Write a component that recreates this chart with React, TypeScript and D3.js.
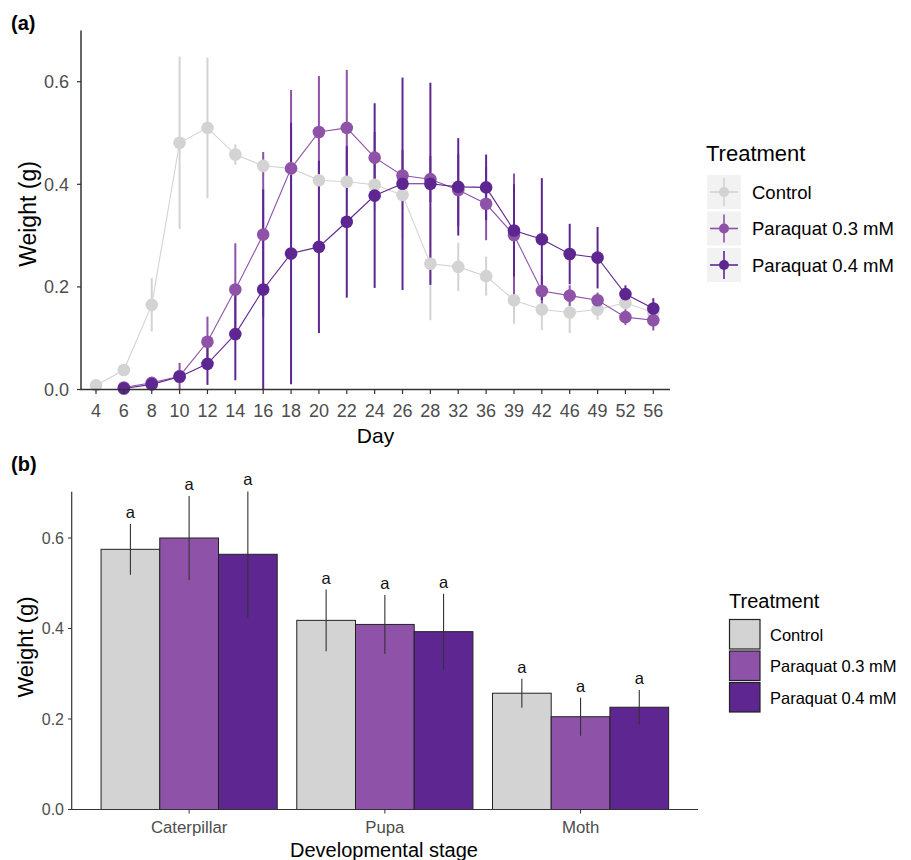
import React from "react";
import * as d3 from "d3";

const days = ["4","6","8","10","12","14","16","18","20","22","24","26","28","32","36","39","42","46","49","52","56"];
const controlMean = [0.008,0.038,0.165,0.481,0.510,0.458,0.436,0.431,0.408,0.405,0.399,0.379,0.245,0.239,0.221,0.174,0.156,0.150,0.156,0.169,0.150];
const controlErr = [0.005,0.008,0.052,0.168,0.137,0.020,0.020,0.030,0.040,0.060,0.050,0.085,0.110,0.047,0.038,0.046,0.040,0.040,0.020,0.015,0.020];
const pq03Mean = [null,0.004,0.013,0.026,0.093,0.195,0.302,0.431,0.502,0.510,0.452,0.417,0.410,0.389,0.362,0.301,0.192,0.183,0.174,0.141,0.135];
const pq03Err = [null,0.004,0.008,0.026,0.049,0.090,0.161,0.153,0.109,0.113,0.050,0.050,0.045,0.070,0.071,0.120,0.030,0.020,0.015,0.015,0.020];
const pq04Mean = [null,0.002,0.010,0.025,0.050,0.108,0.195,0.265,0.278,0.327,0.378,0.401,0.401,0.395,0.394,0.310,0.293,0.264,0.257,0.186,0.158];
const pq04Err = [null,0.003,0.006,0.010,0.041,0.090,0.195,0.255,0.168,0.148,0.180,0.207,0.197,0.095,0.064,0.090,0.119,0.059,0.060,0.017,0.020];
const yTicksA = [0, 0.2, 0.4, 0.6];

const stages = ["Caterpillar","Pupa","Moth"];
const barControl = [0.575,0.418,0.257];
const barControlErr = [0.056,0.068,0.032];
const barPq03 = [0.600,0.409,0.205];
const barPq03Err = [0.093,0.065,0.042];
const barPq04 = [0.564,0.393,0.226];
const barPq04Err = [0.139,0.084,0.038];
const letters = [["a","a","a"],["a","a","a"],["a","a","a"]];
const yTicksB = [0, 0.2, 0.4, 0.6];

const treatments = ["Control","Paraquat 0.3 mM","Paraquat 0.4 mM"];
const colors = ["#d3d3d3","#8e53a9","#5e2690"];

const FONT = "'Liberation Sans', Arial, sans-serif";
const fmt = d3.format(".1f");

export default function App() {
  // Panel (a)
  const xA = d3.scalePoint<string>().domain(days).range([96, 653.3]);
  const yA = d3.scaleLinear().domain([0, 0.7]).range([389.5, 30.4]);
  const seriesA = [
    { name: treatments[0], mean: controlMean, err: controlErr, color: colors[0] },
    { name: treatments[1], mean: pq03Mean, err: pq03Err, color: colors[1] },
    { name: treatments[2], mean: pq04Mean, err: pq04Err, color: colors[2] },
  ];
  const line = d3
    .line<number | null>()
    .defined((d) => d !== null)
    .x((_, i) => xA(days[i]) as number)
    .y((d) => yA(d as number));

  // Panel (b)
  const xB = d3.scaleBand<string>().domain(stages).range([71.7, 698]).paddingInner(0.1).paddingOuter(0.15);
  const groupScale = d3.scaleBand<string>().domain(treatments).range([0, xB.bandwidth()]);
  const yB = d3.scaleLinear().domain([0, 0.7]).range([809.5, 492.75]);
  const seriesB = [
    { vals: barControl, err: barControlErr },
    { vals: barPq03, err: barPq03Err },
    { vals: barPq04, err: barPq04Err },
  ];

  return (
    <svg width={911} height={860} style={{ position: "absolute", left: 0, top: 0, background: "#fff" }} fontFamily={FONT}>
      <rect x={0} y={0} width={911} height={860} fill="#fff" />
      {/* ===== Panel (a) ===== */}
      <text x={11} y={30} fontSize={20} fontWeight="bold" fill="#000">(a)</text>
      {seriesA.map((s, si) => (
        <g key={"eb" + si}>
          {s.mean.map((m, i) =>
            m === null ? null : (
              <line key={i} x1={xA(days[i])} x2={xA(days[i])} y1={yA(Math.max(0, m - (s.err[i] as number)))} y2={yA(m + (s.err[i] as number))} stroke={s.color} strokeWidth={2} />
            )
          )}
        </g>
      ))}
      {seriesA.map((s, si) => (
        <path key={"ln" + si} d={line(s.mean) || ""} fill="none" stroke={s.color} strokeWidth={1.1} />
      ))}
      {seriesA.map((s, si) => (
        <g key={"pt" + si}>
          {s.mean.map((m, i) =>
            m === null ? null : <circle key={i} cx={xA(days[i])} cy={yA(m)} r={6.3} fill={s.color} />
          )}
        </g>
      ))}
      <line x1={81} x2={81} y1={30.4} y2={390} stroke="#333" strokeWidth={1.5} />
      <line x1={80.3} x2={670} y1={389.5} y2={389.5} stroke="#333" strokeWidth={1.5} />
      {yTicksA.map((t) => (
        <g key={"ya" + t}>
          <line x1={77} x2={81} y1={yA(t)} y2={yA(t)} stroke="#333" strokeWidth={1.2} />
          <text x={69} y={yA(t) + 6.3} textAnchor="end" fontSize={18} fill="#4d4d4d">{fmt(t)}</text>
        </g>
      ))}
      {days.map((d) => (
        <g key={"xa" + d}>
          <line x1={xA(d)} x2={xA(d)} y1={389.5} y2={394} stroke="#333" strokeWidth={1.2} />
          <text x={xA(d)} y={416.5} textAnchor="middle" fontSize={18} fill="#4d4d4d">{d}</text>
        </g>
      ))}
      <text x={375.5} y={443} textAnchor="middle" fontSize={21} fill="#000">Day</text>
      <text transform="translate(36,214) rotate(-90)" textAnchor="middle" fontSize={23} fill="#000">Weight (g)</text>
      <text x={706} y={161} fontSize={22} fill="#000">Treatment</text>
      {seriesA.map((s, i) => {
        const ky = 175 + i * 36.5;
        return (
          <g key={"la" + i}>
            <rect x={707} y={ky} width={34} height={34} fill="#f2f2f2" />
            <line x1={710} x2={738} y1={ky + 17} y2={ky + 17} stroke={s.color} strokeWidth={1.6} />
            <line x1={724} x2={724} y1={ky + 3} y2={ky + 31} stroke={s.color} strokeWidth={1.6} />
            <circle cx={724} cy={ky + 17} r={5} fill={s.color} />
            <text x={752} y={ky + 23.5} fontSize={18.5} fill="#000">{s.name}</text>
          </g>
        );
      })}

      {/* ===== Panel (b) ===== */}
      <text x={11} y={471} fontSize={20} fontWeight="bold" fill="#000">(b)</text>
      {stages.map((st, gi) => (
        <g key={"bg" + st}>
          {seriesB.map((s, si) => {
            const x0 = (xB(st) as number) + (groupScale(treatments[si]) as number);
            const w = groupScale.bandwidth();
            const v = s.vals[gi];
            const e = s.err[gi];
            const cx = x0 + w / 2;
            return (
              <g key={si}>
                <rect x={x0} y={yB(v)} width={w} height={yB(0) - yB(v)} fill={colors[si]} stroke="#222" strokeWidth={1} />
                <line x1={cx} x2={cx} y1={yB(v - e)} y2={yB(v + e)} stroke="#333" strokeWidth={1.1} />
                <text x={cx} y={yB(v + e) - 6} textAnchor="middle" fontSize={16.5} fill="#111">{letters[gi][si]}</text>
              </g>
            );
          })}
        </g>
      ))}
      <line x1={71.7} x2={71.7} y1={491.7} y2={810} stroke="#333" strokeWidth={1.2} />
      <line x1={71.2} x2={698} y1={809.5} y2={809.5} stroke="#333" strokeWidth={1.2} />
      {yTicksB.map((t) => (
        <g key={"yb" + t}>
          <line x1={68} x2={71.7} y1={yB(t)} y2={yB(t)} stroke="#333" strokeWidth={1} />
          <text x={64} y={yB(t) + 5.7} textAnchor="end" fontSize={16} fill="#4d4d4d">{fmt(t)}</text>
        </g>
      ))}
      {stages.map((st) => {
        const cx = (xB(st) as number) + xB.bandwidth() / 2;
        return (
          <g key={"xb" + st}>
            <line x1={cx} x2={cx} y1={809.5} y2={813.5} stroke="#333" strokeWidth={1} />
            <text x={cx} y={833} textAnchor="middle" fontSize={16.8} fill="#4d4d4d">{st}</text>
          </g>
        );
      })}
      <text x={384} y={857} textAnchor="middle" fontSize={20} fill="#000">Developmental stage</text>
      <text transform="translate(33,647) rotate(-90)" textAnchor="middle" fontSize={22} fill="#000">Weight (g)</text>
      <text x={729} y={608} fontSize={20} fill="#000">Treatment</text>
      {treatments.map((t, i) => {
        const ky = 619.5 + i * 31.5;
        return (
          <g key={"lb" + i}>
            <rect x={729.5} y={ky} width={30.5} height={29.5} fill={colors[i]} stroke="#222" strokeWidth={1.2} />
            <text x={770} y={ky + 21} fontSize={16.5} fill="#000">{t}</text>
          </g>
        );
      })}
    </svg>
  );
}
